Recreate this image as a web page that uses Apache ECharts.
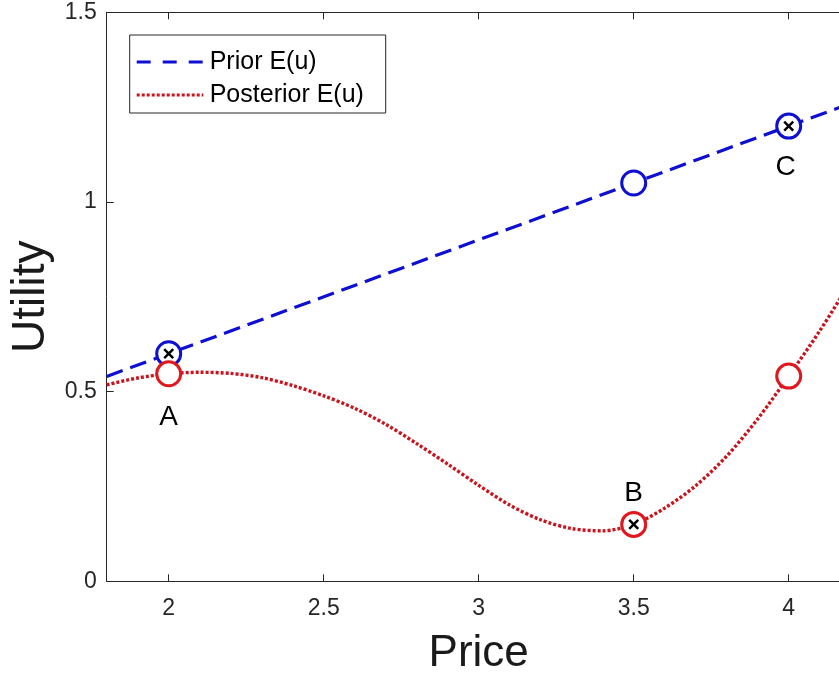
<!DOCTYPE html>
<html>
<head>
<meta charset="utf-8">
<script src="https://cdn.jsdelivr.net/npm/echarts@6/dist/echarts.min.js"></script>
<style>
  html, body { margin: 0; padding: 0; background: #ffffff; }
  #chart { width: 839px; height: 674px; }
</style>
</head>
<body>
<div id="chart"></div>
<script>
// Expected utility against price: prior (straight) and posterior (curved)
const priorPrice   = [1.8, 2.0, 3.5, 4.0, 4.2];
const priorUtility = [0.54, 0.60, 1.05, 1.20, 1.26];

const posteriorPrice = [1.8, 1.9, 2.0, 2.1, 2.2, 2.3, 2.4, 2.5, 2.6, 2.7, 2.8, 2.9,
                        3.0, 3.1, 3.2, 3.3, 3.4, 3.5, 3.6, 3.7, 3.8, 3.9, 4.0, 4.1, 4.2];
const posteriorUtility = [0.518, 0.536, 0.547, 0.551, 0.548, 0.537, 0.516, 0.489, 0.456,
                          0.414, 0.363, 0.309, 0.253, 0.201, 0.162, 0.139, 0.133, 0.150,
                          0.193, 0.252, 0.330, 0.428, 0.541, 0.660, 0.790];

// Evaluated prices (circle markers)
const markPrice         = [2.0, 3.5, 4.0];
const markPriorUtil     = [0.60, 1.05, 1.20];
const markPosteriorUtil = [0.547, 0.15, 0.541];

// Chosen points (x markers) and their letters
const chosenNames   = ['A', 'B', 'C'];
const chosenPrice   = [2.0, 3.5, 4.0];
const chosenUtility = [0.60, 0.15, 1.20];

const xTicks = [2, 2.5, 3, 3.5, 4];
const yTicks = [0, 0.5, 1, 1.5];

const seriesNames = ['Prior E(u)', 'Posterior E(u)'];

const BLUE = '#0f0fd2';
const RED = '#e0181e';
const RED_LINE = '#c8141c';
const AXIS = '#262626';
const FONT = '"Liberation Sans", Arial, Helvetica, sans-serif';

const BLUE_DASH = [17, 8];
const RED_DOT = [3, 2];

const zip = (xs, ys) => xs.map((x, i) => [x, ys[i]]);

const labelBase = {
  show: true,
  color: '#000',
  fontFamily: FONT,
  fontSize: 28,
  formatter: p => p.data.letter
};

// Letter placement: A under the posterior circle, B above the posterior
// circle, C under the prior circle.
const posteriorCircleData = zip(markPrice, markPosteriorUtil).map((v, i) => {
  const item = { value: v };
  if (i === 0) {
    item.letter = chosenNames[0];
    item.label = Object.assign({}, labelBase, { position: 'bottom', distance: 16 });
  } else if (i === 1) {
    item.letter = chosenNames[1];
    item.label = Object.assign({}, labelBase, { position: 'top', distance: 4 });
  }
  return item;
});
const priorCircleData = zip(markPrice, markPriorUtil).map((v, i) => {
  const item = { value: v };
  if (i === 2) {
    item.letter = chosenNames[2];
    item.label = Object.assign({}, labelBase, { position: 'bottom', distance: 14, offset: [-3, 0] });
  }
  return item;
});

const chart = echarts.init(document.getElementById('chart'), null, { renderer: 'canvas' });

// The axes box runs slightly past the right edge of the canvas.
const X_MIN = 1.8, X_MAX = 4.2;
const GRID = { left: 106.7, top: 12.3, width: 744, height: 569 };

const xCommon = {
  type: 'value',
  min: X_MIN,
  max: X_MAX,
  splitLine: { show: false },
  axisLine: { show: true, onZero: false, lineStyle: { color: AXIS, width: 1 } },
  axisTick: { show: true, inside: true, length: 7, customValues: xTicks, lineStyle: { color: AXIS } }
};

// Legend box drawn as graphics so the line samples keep their dash styles
const legendBox = { x: 129.7, y: 35, w: 256, h: 78 };
const legendRows = [
  { name: seriesNames[0], color: BLUE, dash: [14, 12], y: 62 },
  { name: seriesNames[1], color: RED_LINE, dash: RED_DOT, y: 95 }
];
const legendGraphics = [{
  type: 'rect',
  shape: { x: legendBox.x, y: legendBox.y, width: legendBox.w, height: legendBox.h },
  style: { fill: '#ffffff', stroke: AXIS, lineWidth: 1 },
  z: 100
}];
legendRows.forEach(r => {
  legendGraphics.push({
    type: 'line',
    shape: { x1: legendBox.x + 7, y1: r.y, x2: legendBox.x + 73.6, y2: r.y },
    style: { stroke: r.color, lineWidth: 3.2, lineDash: r.dash },
    z: 101
  });
  legendGraphics.push({
    type: 'text',
    x: legendBox.x + 80,
    y: r.y,
    style: {
      text: r.name, fill: '#000', font: '25px ' + FONT,
      textVerticalAlign: 'middle', verticalAlign: 'middle'
    },
    z: 101
  });
});

chart.setOption({
  animation: false,
  backgroundColor: '#ffffff',
  grid: Object.assign({ show: false, containLabel: false, outerBoundsMode: 'none' }, GRID),
  graphic: legendGraphics,
  xAxis: [
    Object.assign({}, xCommon, {
      position: 'bottom',
      name: 'Price',
      nameLocation: 'middle',
      nameGap: 51,
      nameTextStyle: { fontFamily: FONT, fontSize: 44, color: '#1a1a1a' },
      axisLabel: {
        show: true, customValues: xTicks, margin: 16,
        fontFamily: FONT, fontSize: 23, color: AXIS
      }
    }),
    Object.assign({}, xCommon, {
      position: 'top',
      axisLabel: { show: false }
    })
  ],
  yAxis: {
    type: 'value',
    min: 0,
    max: 1.5,
    interval: 0.5,
    position: 'left',
    splitLine: { show: false },
    name: 'Utility',
    nameLocation: 'middle',
    nameGap: 48,
    nameRotate: 90,
    nameTextStyle: { fontFamily: FONT, fontSize: 46, color: '#1a1a1a' },
    axisLine: { show: true, lineStyle: { color: AXIS, width: 1 } },
    axisTick: { show: true, inside: true, length: 7, lineStyle: { color: AXIS } },
    axisLabel: {
      margin: 10, fontFamily: FONT, fontSize: 23, color: AXIS,
      customValues: yTicks,
      formatter: v => String(v)
    }
  },
  series: [
    {
      name: seriesNames[0],
      type: 'line',
      data: zip(priorPrice, priorUtility),
      symbol: 'none',
      z: 3,
      color: BLUE,
      lineStyle: { color: BLUE, width: 3.2, type: BLUE_DASH }
    },
    {
      name: seriesNames[1],
      type: 'line',
      data: zip(posteriorPrice, posteriorUtility),
      smooth: 0.3,
      symbol: 'none',
      z: 2,
      color: RED_LINE,
      lineStyle: { color: RED_LINE, width: 3.4, type: RED_DOT }
    },
    {
      name: 'prior-circles',
      type: 'scatter',
      data: priorCircleData,
      symbol: 'circle',
      symbolSize: 24,
      z: 4,
      itemStyle: { color: '#ffffff', borderColor: BLUE, borderWidth: 3, opacity: 1 }
    },
    {
      name: 'posterior-circles',
      type: 'scatter',
      data: posteriorCircleData,
      symbol: 'circle',
      symbolSize: 24,
      z: 5,
      itemStyle: { color: '#ffffff', borderColor: RED, borderWidth: 3, opacity: 1 }
    },
    {
      name: 'chosen',
      type: 'scatter',
      data: zip(chosenPrice, chosenUtility),
      symbol: 'path://M0,0L10,10M10,0L0,10',
      symbolSize: 9,
      z: 6,
      itemStyle: { color: 'none', borderColor: '#000', borderWidth: 2.5, opacity: 1 }
    }
  ]
});
</script>
</body>
</html>
